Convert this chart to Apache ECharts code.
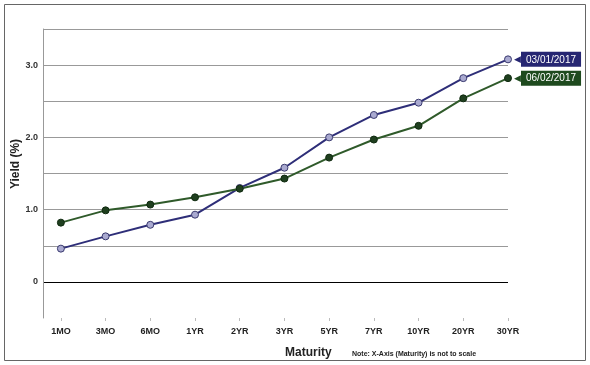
<!DOCTYPE html>
<html><head><meta charset="utf-8">
<script src="https://cdn.jsdelivr.net/npm/echarts@6/dist/echarts.min.js"></script>
<style>html,body{margin:0;padding:0;background:#fff}#c{width:590px;height:365px}</style>
</head><body><div id="c"></div>
<script>
const categories = ['1MO','3MO','6MO','1YR','2YR','3YR','5YR','7YR','10YR','20YR','30YR'];
const seriesNames = ['03/01/2017','06/02/2017'];
const yieldsMar = [0.46,0.63,0.79,0.93,1.30,1.58,2.00,2.31,2.48,2.82,3.08];
const yieldsJun = [0.82,0.99,1.07,1.17,1.29,1.43,1.72,1.97,2.16,2.54,2.82];
const yTickLabels = {'0':'0','1':'1.0','2':'2.0','3':'3.0'};

const F = 'Arial, "Liberation Sans", sans-serif';
const idx = categories.map((c,i)=>i);
const toPts = arr => arr.map((v,i)=>[i,v]);

function mkSeries(name, data, lineColor, fill, border, boxColor){
  return {
    name, type:'line', data: toPts(data), symbol:'circle', symbolSize:7,
    lineStyle:{color:lineColor,width:2},
    itemStyle:{color:fill,borderColor:border,borderWidth:1},
    z:3,
    endLabel:{show:true, distance:6,
      formatter:'{a|◀}{b|'+name+'}',
      rich:{
        a:{color:boxColor,fontSize:9,fontFamily:F},
        b:{color:'#fff',backgroundColor:boxColor,fontSize:10,fontFamily:F,padding:[3,5,2,5]}
      }
    }
  };
}

const chart = echarts.init(document.getElementById('c'));
chart.setOption({
  animation:false,
  grid:{left:43,top:29,right:82,bottom:47,outerBoundsMode:'none',containLabel:false},
  xAxis:{type:'value',min:-0.4,max:10,
    axisLine:{show:false,onZero:false},
    splitLine:{show:false},
    axisTick:{show:true,customValues:idx,length:3,lineStyle:{color:'#bbb'}},
    axisLabel:{customValues:idx,formatter:v=>categories[Math.round(v)],fontFamily:F,fontSize:9,fontWeight:'bold',color:'#222',margin:9}
  },
  yAxis:{type:'value',min:-0.5,max:3.5,interval:0.5,
    axisLine:{show:true,onZero:false,lineStyle:{color:'#999'}},
    axisTick:{show:false},
    axisLabel:{fontFamily:F,fontSize:9,fontWeight:'bold',color:'#333',margin:5,
      formatter:v=>{const k=String(Math.round(v*10)/10);return yTickLabels[k]!==undefined?yTickLabels[k]:'';}},
    splitLine:{show:true,lineStyle:{width:1,color:['rgba(0,0,0,0)','#000','#999','#999','#999','#999','#999','#999','#999']}}
  },
  series:[
    mkSeries(seriesNames[0], yieldsMar, '#2e2e78', '#a9a9d0', '#3a3a6e', '#262672'),
    mkSeries(seriesNames[1], yieldsJun, '#2f5a2a', '#1f3f1f', '#0f2a0f', '#1e4a1e')
  ],
  graphic:[
    {type:'rect',shape:{x:4.5,y:4.5,width:581,height:356},style:{fill:'none',stroke:'#666',lineWidth:1},z:-1},
    {type:'text',x:16,y:164,rotation:Math.PI/2,style:{text:'Yield (%)',font:'bold 12px '+F,fill:'#222',align:'center',verticalAlign:'middle'}},
    {type:'text',x:285,y:347,style:{text:'Maturity',font:'bold 12px '+F,fill:'#222'}},
    {type:'text',x:352,y:351,style:{text:'Note: X-Axis (Maturity) is not to scale',font:'bold 7px '+F,fill:'#222'}}
  ]
});
</script></body></html>
